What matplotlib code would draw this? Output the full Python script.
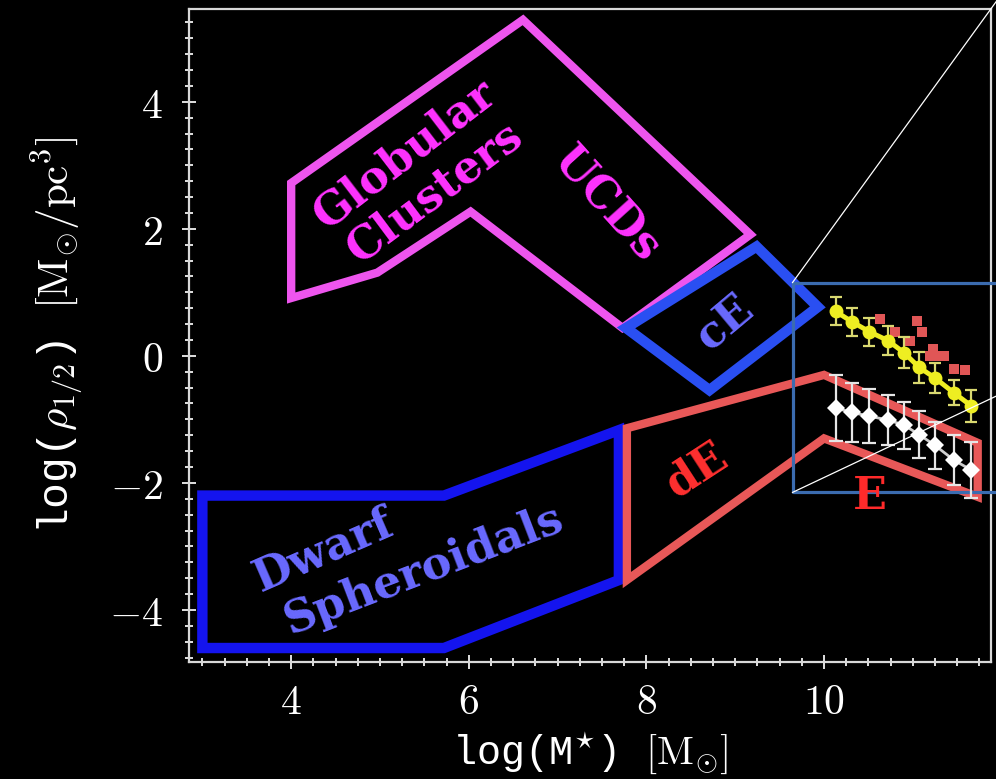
import matplotlib
matplotlib.use("Agg")
import matplotlib.pyplot as plt
from matplotlib.patches import Polygon
from matplotlib.ticker import MultipleLocator, FixedLocator, FixedFormatter

plt.rcParams['mathtext.fontset'] = 'cm'

# Region outlines (log M*, log rho_1/2)
gc_ucd_x = [6.61, 4.0, 4.0, 4.97, 6.02, 7.73, 9.17]
gc_ucd_y = [5.29, 2.72, 0.91, 1.31, 2.27, 0.44, 1.91]

ce_x = [7.77, 9.24, 9.93, 8.71]
ce_y = [0.44, 1.72, 0.77, -0.54]

dsph_x = [3.0, 5.72, 7.69, 7.69, 5.72, 3.0]
dsph_y = [-2.2, -2.2, -1.17, -3.53, -4.6, -4.6]

de_x = [7.78, 10.0, 11.73, 11.73, 10.0, 7.78]
de_y = [-1.14, -0.30, -1.37, -2.22, -1.30, -3.53]

# Binned elliptical galaxies
bin_x = [10.13, 10.31, 10.51, 10.72, 10.90, 11.07, 11.25, 11.46, 11.66]
stellar_y = [0.70, 0.54, 0.38, 0.24, 0.05, -0.18, -0.35, -0.58, -0.79]
stellar_err = [0.22, 0.22, 0.22, 0.23, 0.24, 0.24, 0.23, 0.20, 0.25]
dark_y = [-0.82, -0.89, -0.95, -1.01, -1.09, -1.24, -1.41, -1.64, -1.80]
dark_err = [0.52, 0.46, 0.43, 0.40, 0.37, 0.37, 0.37, 0.40, 0.44]

# Individual galaxies
sq_x = [10.63, 11.05, 11.10, 10.80, 10.97, 11.23, 11.19, 11.29, 11.35, 11.46, 11.59]
sq_y = [0.58, 0.55, 0.37, 0.37, 0.24, 0.10, 0.00, -0.01, -0.01, -0.20, -0.22]

# Zoom-in window
box_x0, box_y0, box_y1 = 9.645, -2.15, 1.154

xticks = [4, 6, 8, 10]
yticks = [-4, -2, 0, 2, 4]

fig = plt.figure(figsize=(9.96, 7.79), dpi=100, facecolor='black')
ax = fig.add_axes([0.1898, 0.1502, 0.8052, 0.8382], facecolor='black')
ax.set_xlim(2.85, 11.88)
ax.set_ylim(-4.82, 5.46)

def outline(xs, ys, color, lw):
    ax.add_patch(Polygon(list(zip(xs, ys)), closed=True, fill=False,
                         edgecolor=color, linewidth=lw, joinstyle='miter', zorder=2))

outline(gc_ucd_x, gc_ucd_y, '#ee55ee', 6.0)
outline(ce_x, ce_y, '#2a4ff2', 7.5)
outline(dsph_x, dsph_y, '#1414ee', 7.5)
outline(de_x, de_y, '#e85858', 6.0)

# zoom window (runs off the right edge)
box_col = '#3b6cb0'
ax.plot([12.5, box_x0, box_x0, 12.5], [box_y1, box_y1, box_y0, box_y0],
        color=box_col, lw=2.3, clip_on=False, zorder=3)

# individual galaxies
ax.plot(sq_x, sq_y, 's', color='#e05656', markersize=7.5, markeredgewidth=0, zorder=4)

# stellar density bins
ax.errorbar(bin_x, stellar_y, yerr=stellar_err, fmt='none', ecolor='#d9d870',
            elinewidth=1.6, capsize=4.5, capthick=1.6, zorder=5)
ax.plot(bin_x, stellar_y, '-o', color='#eeee22', lw=3.5, markersize=10,
        markeredgewidth=0, zorder=6)

# dark matter density bins
ax.errorbar(bin_x, dark_y, yerr=dark_err, fmt='none', ecolor='#e6e6e6',
            elinewidth=1.6, capsize=5, capthick=1.6, zorder=5)
ax.plot(bin_x, dark_y, '-D', color='#cfcfcf', lw=2, markersize=9,
        markerfacecolor='white', markeredgewidth=0, zorder=6)

# connector lines towards the zoom panel
ax.plot([box_x0, 11.95], [box_y1, 5.6], color='white', lw=0.9, clip_on=False, zorder=7)
ax.plot([box_x0, 12.6], [box_y0, box_y0 + 0.661 * (12.6 - box_x0)],
        color='white', lw=0.9, clip_on=False, zorder=7)

# region labels
lab = dict(family='DejaVu Serif', fontweight='bold', fontsize=32,
           ha='center', va='center', zorder=8, rotation_mode='anchor')
ax.text(5.27, 3.17, 'Globular', color='#ff33ff', rotation=37.5, **lab)
ax.text(5.61, 2.57, 'Clusters', color='#ff33ff', rotation=36.7, **lab)
ax.text(7.55, 2.38, 'UCDs', color='#ff33ff', rotation=-48, **lab)
ax.text(8.88, 0.52, 'cE', color='#6a6aff', rotation=40, **lab)
ax.text(4.37, -3.06, 'Dwarf', color='#6a6aff', rotation=23.5, **lab)
ax.text(5.49, -3.37, 'Spheroidals', color='#6a6aff', rotation=21, **lab)
ax.text(8.56, -1.80, 'dE', color='#ff3030', rotation=33, **lab)
ax.text(10.51, -2.22, 'E', color='#ff2a2a', rotation=0, **lab)

# axes styling
for side in ['left', 'bottom', 'top', 'right']:
    ax.spines[side].set_color('#d8d8d8')
    ax.spines[side].set_linewidth(1.6)

ax.xaxis.set_major_locator(FixedLocator(xticks))
ax.xaxis.set_major_formatter(FixedFormatter([f'${v}$' for v in xticks]))
ax.yaxis.set_major_locator(FixedLocator(yticks))
ax.yaxis.set_major_formatter(FixedFormatter([f'${v}$' for v in yticks]))
ax.xaxis.set_minor_locator(MultipleLocator(0.25))
ax.yaxis.set_minor_locator(MultipleLocator(0.25))
ax.tick_params(which='both', direction='inout', colors='#e0e0e0', width=1.4,
               top=False, right=False)
ax.tick_params(which='major', length=10, labelsize=30, labelcolor='white')
ax.tick_params(axis='x', which='major', pad=9)
ax.tick_params(axis='y', which='major', pad=14)
ax.tick_params(which='minor', length=6)

ax.set_xlabel(r'log(M$^{\star}$) $[\mathrm{M}_{\odot}]$', family='Liberation Mono',
              fontsize=29, color='white', labelpad=5)
ax.set_ylabel(r'log($\rho_{1/2}$) $[\mathrm{M}_{\odot}/\mathrm{pc}^{3}]$',
              family='Liberation Mono', fontsize=31, color='white', labelpad=17)

fig.savefig('out.png', dpi=100, facecolor='black')
